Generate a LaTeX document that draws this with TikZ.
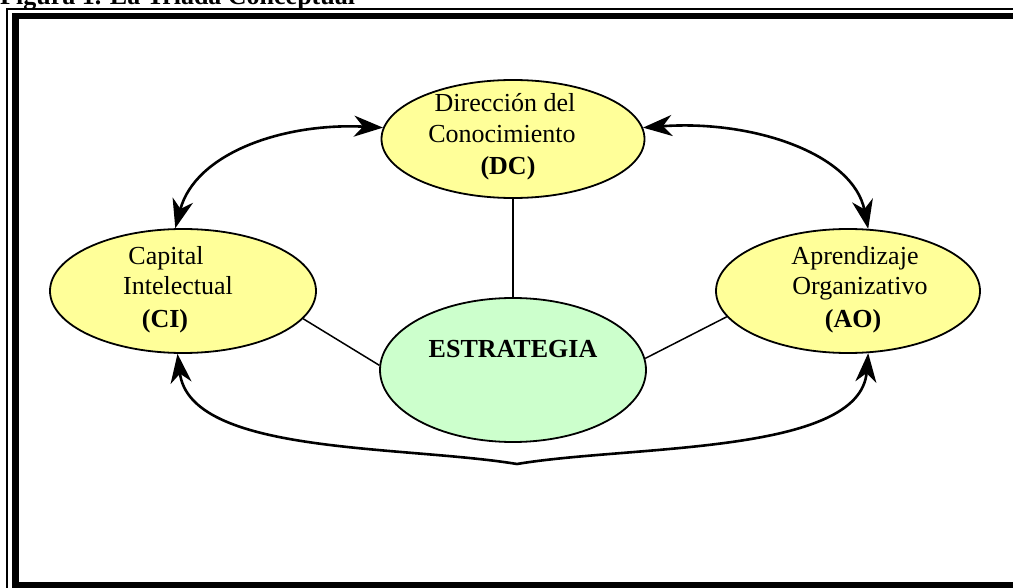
\documentclass[tikz,border=0pt]{standalone}
\usepackage{fontspec}
\setmainfont{Liberation Serif}
\usetikzlibrary{shapes.geometric,arrows.meta}
\definecolor{yel}{HTML}{FFFF99}
\definecolor{grn}{HTML}{CCFFCC}
\begin{document}
\begin{tikzpicture}[x=1pt,y=-1pt,
  ell/.style={ellipse,draw=black,line width=1.8pt,inner sep=0pt},
  txt/.style={anchor=base,inner sep=0pt,font=\fontsize{26}{31}\selectfont},
  btxt/.style={anchor=base,inner sep=0pt,font=\fontsize{26}{31}\selectfont\bfseries},
  link/.style={line width=1.5pt},
  tip/.tip={Stealth[length=29pt,width=21pt,inset=9pt]},
  bow/.style={line width=2.6pt,tip-tip},
  bowone/.style={line width=2.6pt,-tip},
  ]
\useasboundingbox (0,0) rectangle (1013,588);
% frame
\draw[line width=1.2pt] (7,9) rectangle (1040,600);
\draw[line width=6.5pt] (15.5,16) rectangle (1040,585);
% title
\node[btxt,anchor=base west] (title) at (0,5) {Figura 1. La Tríada Conceptual};
% ellipses
\node[ell,fill=yel,minimum width=263pt,minimum height=118pt] (dc) at (513,139) {};
\node[ell,fill=yel,minimum width=266pt,minimum height=124pt] (ci) at (183,291) {};
\node[ell,fill=yel,minimum width=264pt,minimum height=124pt] (ao) at (848,291) {};
\node[ell,fill=grn,minimum width=266pt,minimum height=144pt] (est) at (513,370) {};
% texts
\node[txt] (dc1) at (505,112) {Dirección del};
\node[txt] (dc2) at (502,143) {Conocimiento};
\node[btxt] (dc3) at (508,175) {(DC)};
\node[txt] (ci1) at (166,265) {Capital};
\node[txt] (ci2) at (178,295) {Intelectual};
\node[btxt] (ci3) at (165,327) {(CI)};
\node[txt] (ao1) at (855,265) {Aprendizaje};
\node[txt] (ao2) at (860,295) {Organizativo};
\node[btxt] (ao3) at (853,327) {(AO)};
\node[btxt] (est1) at (513,358) {ESTRATEGIA};
% straight links
\draw[link] (dc.south) -- (est.north);
\draw[link] (ci.-13) -- (est.178);
\draw[link] (ao.192) -- (est.5);
% curved arrows
\draw[bow] (ci.97) .. controls +(20,-75) and +(-100,-5) .. (dc.175);
\draw[bow] (dc.5) .. controls +(110,-8) and +(-15,-75) .. (ao.72);
\coordinate (m) at (517,464);
\draw[bowone] (m) .. controls (400,445) and (190,455) .. (ci.265);
\draw[bowone] (m) .. controls (630,445) and (860,455) .. (ao.288);
\end{tikzpicture}
\end{document}
